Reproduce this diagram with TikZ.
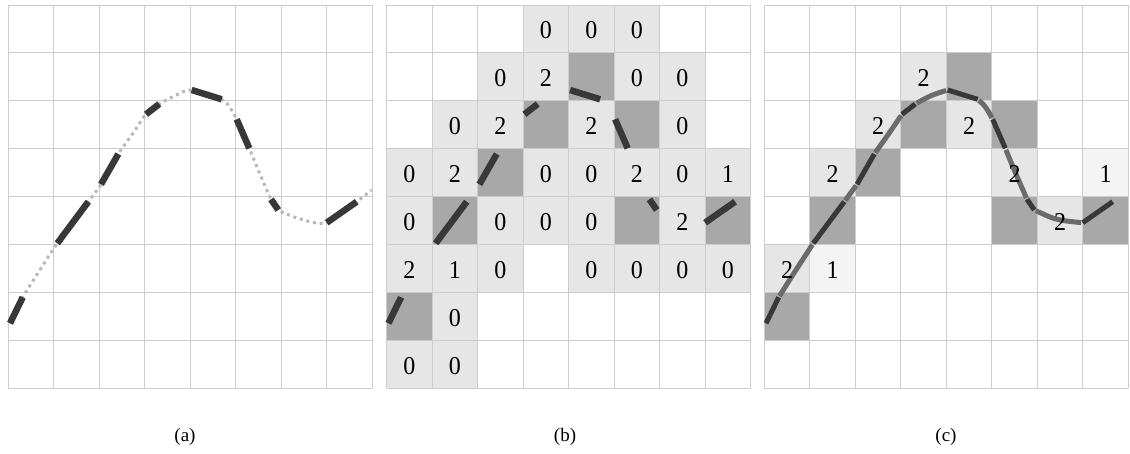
\documentclass[tikz,border=0pt]{standalone}
\usepackage{graphicx}
\usepackage{fontspec}
\setmainfont{Liberation Serif}
\definecolor{gridc}{HTML}{CDCDCD}
\definecolor{lightc}{HTML}{E6E6E6}
\definecolor{darkc}{HTML}{A8A8A8}
\definecolor{palec}{HTML}{F4F4F4}
\definecolor{inkc}{HTML}{383838}
\definecolor{dotc}{HTML}{B8B8B8}
\definecolor{midc}{HTML}{6B6B6B}

\newcommand\curvecoords{%
 \coordinate (a1) at (10,323.3);
 \coordinate (a2) at (22.7,297.3);
 \coordinate (ab) at (38,273);
 \coordinate (b1) at (57.3,243.3);
 \coordinate (b2) at (88.3,201.7);
 \coordinate (c1) at (101,184.3);
 \coordinate (c2) at (118.3,154);
 \coordinate (cd) at (132.5,134);
 \coordinate (d1) at (146,114.3);
 \coordinate (d2) at (159.3,104);
 \coordinate (de) at (175.5,95.5);
 \coordinate (e1) at (191.7,90);
 \coordinate (e2) at (221.7,99.3);
 \coordinate (ef) at (229.8,107.5);
 \coordinate (f1) at (236.7,119.3);
 \coordinate (f2) at (249.3,148.3);
 \coordinate (fg) at (259.5,173);
 \coordinate (g1) at (271,199.3);
 \coordinate (g2) at (278.3,210);
 \coordinate (gh) at (302,219.5);
 \coordinate (h1) at (326.7,222.7);
 \coordinate (h2) at (356.7,201.7);
 \coordinate (hz) at (371.7,190);
}
\newcommand\drawdarkpieces[1]{%
 \draw[#1] (a1) -- (a2);
 \draw[#1] (b1) -- (b2);
 \draw[#1] (c1) -- (c2);
 \draw[#1] (d1) -- (d2);
 \draw[#1] (e1) -- (e2);
 \draw[#1] (f1) -- (f2);
 \draw[#1] (g1) -- (g2);
 \draw[#1] (h1) -- (h2);
}
\newcommand\drawgrid{%
 \foreach \i in {0,...,8}{
  \draw[gridline] (\i,0) -- (\i,8);
  \draw[gridline] (0,\i) -- (8,\i);
 }
}
\newcommand\digit[1]{\scalebox{1}[1.07]{#1}}

\begin{document}
\begin{tikzpicture}[x=1pt,y=-1pt,
  gridline/.style={draw=gridc, line width=0.9pt},
  celltext/.style={font=\fontsize{24}{24}\selectfont, inner sep=0pt},
  captext/.style={font=\fontsize{19}{19}\selectfont, inner sep=0pt},
  inkdash/.style={draw=inkc, line width=6.5pt},
  dotline/.style={draw=dotc, line width=3pt, dash pattern=on 3pt off 3.8pt},
  inkline/.style={draw=inkc, line width=5pt},
  midline/.style={draw=midc, line width=5pt, shorten <=1.6pt, shorten >=1.6pt},
  cellframe/.style={shift={(8.3,5)}, x=45.5pt, y=-47.9pt}
]
\fill[white] (0,0) rectangle (1130,453);
\useasboundingbox (0,0) rectangle (1130,453);

% ---------- panel (a)
\begin{scope}
 \begin{scope}[cellframe]
  \drawgrid
 \end{scope}
 \curvecoords
 \draw[dotline] plot[smooth,tension=0.5] coordinates {(a1)(a2)(ab)(b1)(b2)(c1)(c2)(cd)(d1)(d2)(de)(e1)(e2)(ef)(f1)(f2)(fg)(g1)(g2)(gh)(h1)(h2)(hz)};
 \drawdarkpieces{inkdash}
\end{scope}

% ---------- panel (b)
\begin{scope}[shift={(378.4,0)}]
 \begin{scope}[cellframe]
  \foreach \cx/\ry/\lb in {3/0/0,4/0/0,5/0/0,2/1/0,3/1/2,5/1/0,6/1/0,1/2/0,2/2/2,4/2/2,6/2/0,0/3/0,1/3/2,3/3/0,4/3/0,5/3/2,6/3/0,7/3/1,0/4/0,2/4/0,3/4/0,4/4/0,6/4/2,0/5/2,1/5/1,2/5/0,4/5/0,5/5/0,6/5/0,7/5/0,1/6/0,0/7/0,1/7/0}
   {\fill[lightc] (\cx,\ry) rectangle ++(1,1);}
  \foreach \cx/\ry in {4/1,3/2,5/2,2/3,1/4,5/4,7/4,0/6}
   {\fill[darkc] (\cx,\ry) rectangle ++(1,1);}
  \drawgrid
 \end{scope}
 \curvecoords
 \drawdarkpieces{inkdash}
 \begin{scope}[cellframe]
  \foreach \cx/\ry/\lb in {3/0/0,4/0/0,5/0/0,2/1/0,3/1/2,5/1/0,6/1/0,1/2/0,2/2/2,4/2/2,6/2/0,0/3/0,1/3/2,3/3/0,4/3/0,5/3/2,6/3/0,7/3/1,0/4/0,2/4/0,3/4/0,4/4/0,6/4/2,0/5/2,1/5/1,2/5/0,4/5/0,5/5/0,6/5/0,7/5/0,1/6/0,0/7/0,1/7/0}
   {\node[celltext] (b-\cx-\ry) at (\cx+0.5,\ry+0.53) {\digit{\lb}};}
 \end{scope}
\end{scope}

% ---------- panel (c)
\begin{scope}[shift={(756,0)}]
 \begin{scope}[cellframe]
  \foreach \cx/\ry in {3/1,2/2,4/2,1/3,5/3,6/4,0/5}
   {\fill[lightc] (\cx,\ry) rectangle ++(1,1);}
  \foreach \cx/\ry in {7/3,1/5}
   {\fill[palec] (\cx,\ry) rectangle ++(1,1);}
  \foreach \cx/\ry in {4/1,3/2,5/2,2/3,1/4,5/4,7/4,0/6}
   {\fill[darkc] (\cx,\ry) rectangle ++(1,1);}
  \drawgrid
 \end{scope}
 \curvecoords
 \draw[midline] plot[smooth,tension=0.5] coordinates {(a2)(ab)(b1)};
 \draw[midline] (b2) -- (c1);
 \draw[midline] plot[smooth,tension=0.5] coordinates {(c2)(cd)(d1)};
 \draw[midline] plot[smooth,tension=0.5] coordinates {(d2)(de)(e1)};
 \draw[midline] plot[smooth,tension=0.5] coordinates {(e2)(ef)(f1)};
 \draw[midline] plot[smooth,tension=0.5] coordinates {(f2)(fg)(g1)};
 \draw[midline] plot[smooth,tension=0.5] coordinates {(g2)(gh)(h1)};
 \drawdarkpieces{inkline}
 \begin{scope}[cellframe]
  \foreach \cx/\ry/\lb in {3/1/2,2/2/2,4/2/2,1/3/2,5/3/2,6/4/2,0/5/2,7/3/1,1/5/1}
   {\node[celltext] (c-\cx-\ry) at (\cx+0.5,\ry+0.53) {\digit{\lb}};}
 \end{scope}
\end{scope}

% ---------- captions
\node[captext] (capa) at (185,437) {(a)};
\node[captext] (capb) at (565,437) {(b)};
\node[captext] (capc) at (946,437) {(c)};
\end{tikzpicture}
\end{document}
